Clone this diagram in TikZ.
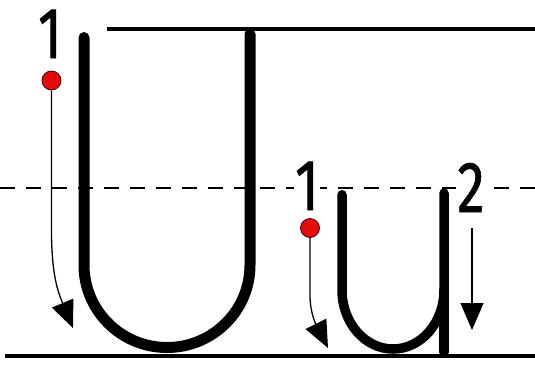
\documentclass[tikz,border=0pt]{standalone}
\usepackage{fontspec}
\newfontfamily\digitfont[FakeBold=1.2]{Fira Sans}
\usetikzlibrary{arrows.meta}
\tikzset{
  guide/.style={line width=4pt},
  midline/.style={line width=1.5pt, dash pattern=on 15pt off 11pt},
  bigstroke/.style={line width=11pt, line cap=round},
  smallstroke/.style={line width=9.5pt, line cap=round},
  dot/.style={circle, minimum size=19pt, inner sep=0pt, fill={rgb,255:red,230;green,10;blue,10}, draw=black!75!red, line width=0.8pt},
  arr/.style={line width=1.3pt, -{Triangle[length=27pt,width=23pt]}},
  num/.style={anchor=base, inner sep=1pt, fill=white, font={\digitfont\fontsize{72}{72}\selectfont}}
}
\begin{document}
\begin{tikzpicture}[x=1pt,y=-1pt]
\useasboundingbox (0,0) rectangle (535,365);
% guide lines
\coordinate (tl1) at (107,29); \coordinate (tl2) at (535,29);
\coordinate (bl1) at (5,356); \coordinate (bl2) at (535,356);
\coordinate (ml1) at (0,188); \coordinate (ml2) at (535,188);
\draw[midline] (ml1) -- (ml2);
\draw[guide] (tl1) -- (tl2);
% big U
\coordinate (U1) at (84,37.5);
\coordinate (U2) at (84,265);
\coordinate (U3) at (167,347.5);
\coordinate (U4) at (250,265);
\coordinate (U5) at (250,34);
\draw[bigstroke] (U1) -- (U2) .. controls (84,310.6) and (121.2,347.5) .. (U3)
  .. controls (212.8,347.5) and (250,310.6) .. (U4) -- (U5);
% small u
\coordinate (u1) at (342,194.75);
\coordinate (u2) at (342,290);
\coordinate (u3) at (393,349);
\coordinate (u4) at (444,290);
\coordinate (u5) at (444,193);
\coordinate (u6) at (444,352);
\draw[smallstroke] (u1) -- (u2) .. controls (342,322.6) and (364.8,349) .. (u3)
  .. controls (421.2,349) and (444,322.6) .. (u4) -- (u5);
\draw[smallstroke] (u4) -- (u6);
\draw[guide] (bl1) -- (bl2);
% numbers
\node[num] (n1) at (50,58) {\scalebox{0.76}[1]{1}};
\node[num] (n2) at (307,210) {\scalebox{0.76}[1]{1}};
\node[num] (n3) at (471,212) {\scalebox{0.76}[1]{2}};
% arrows
\coordinate (a1) at (51.5,230); \coordinate (t1) at (73,328);
\coordinate (a2) at (310,295); \coordinate (t2) at (328,348);
\coordinate (s3) at (472,228); \coordinate (t3) at (472,330);
\node[dot] (d1) at (51.5,80.5) {};
\node[dot] (d2) at (310,228) {};
\draw[arr] (d1) -- (a1) .. controls +(0,45) and +(-15,-36) .. (t1);
\draw[arr] (d2) -- (a2) .. controls +(0,22) and +(-9,-18) .. (t2);
\draw[arr] (s3) -- (t3);
\end{tikzpicture}
\end{document}
